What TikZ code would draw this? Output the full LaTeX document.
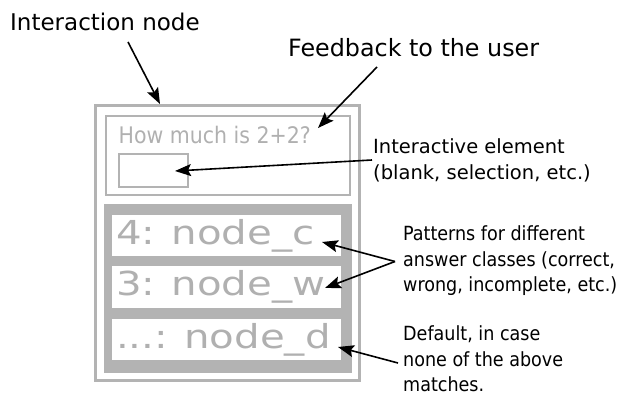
\documentclass[tikz,border=0pt]{standalone}
\usepackage{fontspec}
\setmainfont{DejaVu Sans}
\newfontfamily\condfont{DejaVu Sans Condensed}
\newfontfamily\widefont[FakeStretch=1.22]{DejaVu Sans}
\usetikzlibrary{positioning,arrows.meta}
\definecolor{boxgray}{RGB}{179,179,179}
\definecolor{textgray}{RGB}{176,176,176}

\begin{document}
\begin{tikzpicture}[
        x=1pt, y=-1pt,
        arr/.style={-{Stealth[length=16pt,width=12pt,inset=3pt]}, line width=1.6pt},
        toplabel/.style={inner sep=0pt, anchor=base west, font=\fontsize{23}{28}\selectfont},
        sidelabel/.style={inner sep=0pt, anchor=north west, align=left, font=\fontsize{19.5}{26}\selectfont},
        notelabel/.style={inner sep=0pt, anchor=north west, align=left, font=\condfont\fontsize{19.5}{25.5}\selectfont},
        framebox/.style={draw=boxgray, line width=3pt, minimum width=263.5pt, minimum height=274.5pt},
        questbox/.style={draw=boxgray, line width=1.5pt, minimum width=244pt, minimum height=79pt},
        blankbox/.style={draw=boxgray, line width=1.8pt, minimum width=69pt, minimum height=33pt},
        panel/.style={fill=boxgray, minimum width=248pt, minimum height=169pt},
        answerbox/.style={fill=white, outer sep=0pt, minimum width=229pt, minimum height=41.5pt,
            text width=221pt, inner xsep=4pt, inner ysep=0pt, align=left, text=textgray,
            font=\widefont\fontsize{33}{38}\selectfont}
    ]
    \useasboundingbox (0,0) rectangle (617,395);

    \node (inter) at (227.25,242.75) [framebox] {};
    \node (quest) at (228,155.5) [questbox] {};
    \node (blank) at (153.5,170.5) [blankbox] {};
    \node (qtext) at (118.5,144) [inner sep=0pt, anchor=base west, text=textgray,
        font=\condfont\fontsize{22.8}{27}\selectfont] {How much is 2+2?};
    \node (pats) at (228,288.5) [panel] {};
    \node (pc) at (226.5,235.5) [answerbox] {4: node\_c};
    \node (pw) [answerbox, below=10pt of pc] {3: node\_w};
    \node (pd) [answerbox, below=11pt of pw] {...: node\_d};

    \node (ilab) at (10,31) [toplabel] {Interaction node};
    \node (flab) at (288,57) [toplabel, font=\fontsize{23.8}{28}\selectfont] {Feedback to the user};
    \node (elab) at (373,138.5) [sidelabel] {Interactive element\\(blank, selection, etc.)};
    \node (plab) at (403,225.5) [notelabel] {Patterns for different\\answer classes (correct,\\wrong, incomplete, etc.)};
    \node (dlab) at (403,325.5) [notelabel] {Default, in case\\none of the above\\matches.};

    \coordinate (ifrom) at (128,42);
    \coordinate (ito) at (160,104);
    \coordinate (ffrom) at (377,67);
    \coordinate (fto) at (318,128);
    \coordinate (efrom) at (372,160);
    \coordinate (eto) at (175,171);
    \coordinate (pfrom) at (395,261.5);
    \coordinate (pcto) at (322,242);
    \coordinate (pwto) at (325,288);
    \coordinate (dfrom) at (398,363);
    \coordinate (dto) at (338,347);

    \draw[arr] (ifrom) -- (ito);
    \draw[arr] (ffrom) -- (fto);
    \draw[arr] (efrom) -- (eto);
    \draw[arr] (pfrom) -- (pcto);
    \draw[arr] (pfrom) -- (pwto);
    \draw[arr] (dfrom) -- (dto);
\end{tikzpicture}
\end{document}
